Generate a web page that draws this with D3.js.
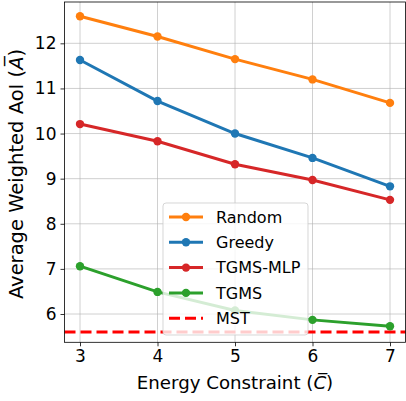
<!DOCTYPE html>
<html>
<head>
<meta charset="utf-8">
<script src="https://cdn.jsdelivr.net/npm/d3@7"></script>
<style>
  body { margin: 0; background: #fff; }
  svg { font-family: "DejaVu Sans", sans-serif; }
  .grid line { stroke: #b0b0b0; stroke-opacity: 0.6; }
</style>
</head>
<body>
<svg id="chart" width="406" height="401"></svg>
<script>
// data
var energy = [3, 4, 5, 6, 7];
var random = [12.6, 12.15, 11.65, 11.2, 10.68];
var greedy = [11.63, 10.72, 10.0, 9.46, 8.83];
var tgmsMlp = [10.21, 9.83, 9.32, 8.97, 8.53];
var tgms = [7.06, 6.49, 6.08, 5.87, 5.73];
var mst = 5.6;
var yTicks = [6, 7, 8, 9, 10, 11, 12];

var series = [
    {name: "Random", values: random, color: "#ff7f0e"},
    {name: "Greedy", values: greedy, color: "#1f77b4"},
    {name: "TGMS-MLP", values: tgmsMlp, color: "#d62728"},
    {name: "TGMS", values: tgms, color: "#2ca02c"}
];

var margin = {top: 2, right: 0.5, bottom: 58.7, left: 64.5};
var W = 406, H = 401;
var width = W - margin.left - margin.right, height = H - margin.top - margin.bottom;

var svg = d3.select("#chart");
var g = svg.append("g").attr("transform", "translate(" + margin.left + "," + margin.top + ")");

var x = d3.scaleLinear().domain([2.8, 7.2]).range([0, width]);
var y = d3.scaleLinear().domain([5.373, 12.916]).range([height, 0]);

// grid
g.append("g").attr("class", "grid")
    .selectAll("line").data(energy).enter().append("line")
    .attr("x1", d => x(d)).attr("x2", d => x(d))
    .attr("y1", 0).attr("y2", height);
g.append("g").attr("class", "grid")
    .selectAll("line").data(yTicks).enter().append("line")
    .attr("y1", d => y(d)).attr("y2", d => y(d))
    .attr("x1", 0).attr("x2", width);

// MST baseline
g.append("line")
    .attr("x1", 0).attr("x2", width)
    .attr("y1", y(mst)).attr("y2", y(mst))
    .attr("stroke", "red").attr("stroke-width", 3)
    .attr("stroke-dasharray", "11,5");

var line = d3.line().x((d, i) => x(energy[i])).y(d => y(d));

series.forEach(function (s) {
    g.append("path").datum(s.values)
        .attr("d", line)
        .attr("fill", "none")
        .attr("stroke", s.color)
        .attr("stroke-width", 3);
    g.selectAll(null).data(s.values).enter().append("circle")
        .attr("cx", (d, i) => x(energy[i]))
        .attr("cy", d => y(d))
        .attr("r", 4.2)
        .attr("fill", s.color);
});

// axes
var xAxis = g.append("g").attr("transform", "translate(0," + height + ")")
    .call(d3.axisBottom(x).tickValues(energy).tickSize(4).tickPadding(4).tickFormat(d3.format("d")));
var yAxis = g.append("g")
    .call(d3.axisLeft(y).tickValues(yTicks).tickSize(4).tickPadding(4).tickFormat(d3.format("d")));
[xAxis, yAxis].forEach(function (a) {
    a.select(".domain").remove();
    a.selectAll("text").attr("font-size", 17).attr("fill", "#000")
        .attr("font-family", "DejaVu Sans");
    a.selectAll("line").attr("stroke", "#000").attr("stroke-width", 0.8);
});

// frame
g.append("rect").attr("width", width).attr("height", height)
    .attr("fill", "none").attr("stroke", "#000").attr("stroke-width", 0.8);

// axis labels
var xl = svg.append("text")
    .attr("x", margin.left + width / 2).attr("y", 389)
    .attr("text-anchor", "middle").attr("font-size", 18.2);
xl.append("tspan").text("Energy Constraint (");
xl.append("tspan").attr("font-style", "italic").text("C\u0305");
xl.append("tspan").text(")");

var yl = svg.append("text")
    .attr("transform", "translate(23," + 174 + ") rotate(-90)")
    .attr("text-anchor", "middle").attr("font-size", 19.5);
yl.append("tspan").text("Average Weighted AoI (");
yl.append("tspan").attr("font-style", "italic").text("A\u0305");
yl.append("tspan").text(")");

// legend
var items = series.concat([{name: "MST", color: "red", dashed: true}]);
var leg = svg.append("g").attr("transform", "translate(163,203)");
leg.append("rect").attr("width", 145).attr("height", 132).attr("rx", 3)
    .attr("fill", "#fff").attr("fill-opacity", 0.8)
    .attr("stroke", "#ccc").attr("stroke-opacity", 0.8);
var row = leg.selectAll("g.item").data(items).enter().append("g")
    .attr("class", "item")
    .attr("transform", (d, i) => "translate(0," + (14 + i * 25.3) + ")");
row.append("line").attr("x1", 6).attr("x2", 40)
    .attr("stroke", d => d.color).attr("stroke-width", 3)
    .attr("stroke-dasharray", d => d.dashed ? "11,5" : null);
row.filter(d => !d.dashed).append("circle").attr("cx", 23).attr("r", 4.2)
    .attr("fill", d => d.color);
row.append("text").attr("x", 53).attr("dy", "0.35em")
    .attr("font-size", 16).text(d => d.name);
</script>
</body>
</html>
